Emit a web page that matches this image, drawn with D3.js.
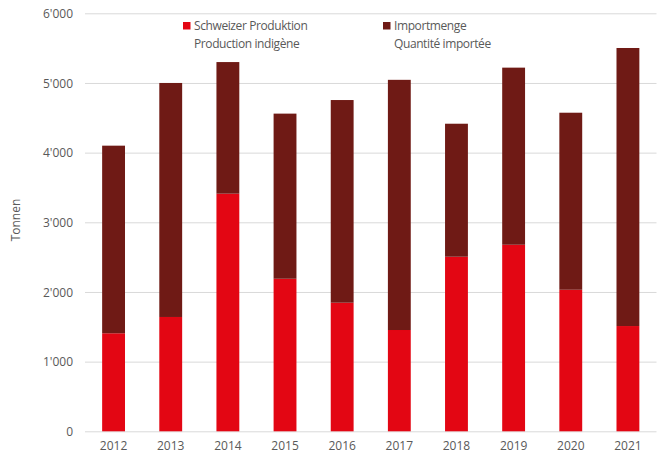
<!DOCTYPE html>
<html>
<head>
<meta charset="utf-8">
<script src="https://cdn.jsdelivr.net/npm/d3@7"></script>
<style>
  body { margin: 0; background: #fff; }
  text { font-family: "Open Sans", sans-serif; fill: #595959; }
</style>
</head>
<body>
<svg id="chart" width="658" height="455"></svg>
<script>
// Data
var years = ['2012', '2013', '2014', '2015', '2016', '2017', '2018', '2019', '2020', '2021'];
var produktion = [1407, 1641, 3411, 2190, 1846, 1454, 2506, 2678, 2032, 1511];
var totals = [4100, 5000, 5300, 4560, 4755, 5045, 4415, 5220, 4573, 5502];
var yTicks = [0, 1000, 2000, 3000, 4000, 5000, 6000];

var svg = d3.select('#chart');
var padding = {t: 13.3, l: 85, r: 1.5, b: 23.7};
var width = 658 - padding.l - padding.r;
var height = 455 - padding.t - padding.b;

var colors = {prod: '#e30613', imp: '#6f1a15'};

var rows = years.map(function(y, i) {
    return {year: y, prod: produktion[i], imp: totals[i] - produktion[i]};
});

var xScale = d3.scaleBand().domain(years).range([0, width]).paddingInner(0.6).paddingOuter(0.3);
var yScale = d3.scaleLinear().domain([0, 6000]).range([height, 0]);

var chartG = svg.append('g')
    .attr('transform', 'translate(' + [padding.l, padding.t] + ')');

// gridlines
var yAxis = chartG.append('g')
    .call(d3.axisLeft(yScale).tickValues(yTicks).tickSize(-width)
        .tickFormat(function(d) { return d === 0 ? '0' : d3.format(',')(d).replace(',', "'"); }));
yAxis.select('.domain').remove();
yAxis.selectAll('.tick line').attr('stroke', '#d9d9d9').attr('stroke-width', 1);
yAxis.selectAll('.tick text').attr('x', -12).attr('dy', '0.35em')
    .style('font-size', '12px').style('fill', '#595959');

// stacked bars
var stack = d3.stack().keys(['prod', 'imp'])(rows);
chartG.selectAll('.series')
    .data(stack).enter()
    .append('g')
    .attr('fill', function(d) { return colors[d.key]; })
    .selectAll('rect')
    .data(function(d) { return d; }).enter()
    .append('rect')
    .attr('x', function(d) { return xScale(d.data.year); })
    .attr('y', function(d) { return yScale(d[1]); })
    .attr('width', xScale.bandwidth())
    .attr('height', function(d) { return yScale(d[0]) - yScale(d[1]); });

// x axis labels
var xAxis = chartG.append('g')
    .attr('transform', 'translate(0,' + height + ')')
    .call(d3.axisBottom(xScale).tickSize(0));
xAxis.select('.domain').remove();
xAxis.selectAll('.tick text').attr('dy', 0).attr('y', 19)
    .style('font-size', '12px').style('fill', '#595959');

// y axis title
svg.append('text')
    .attr('transform', 'translate(' + [20, 220] + ')rotate(-90)')
    .attr('text-anchor', 'middle')
    .style('font-size', '12px')
    .text('Tonnen');

// legend
var legend = [
    {key: 'prod', x: 183, lines: ['Schweizer Produktion', 'Production indigène']},
    {key: 'imp', x: 383, lines: ['Importmenge', 'Quantité importée']}
];
legend.forEach(function(l) {
    svg.append('rect')
        .attr('x', l.x).attr('y', 22)
        .attr('width', 7.5).attr('height', 7.5)
        .attr('fill', colors[l.key]);
    var t = svg.append('text')
        .attr('x', l.x + 11).attr('y', 30)
        .style('font-size', '12px')
        .style('letter-spacing', '-0.4px');
    l.lines.forEach(function(line, i) {
        t.append('tspan')
            .attr('x', l.x + 11)
            .attr('dy', i === 0 ? 0 : 17.5)
            .text(line);
    });
});
</script>
</body>
</html>
